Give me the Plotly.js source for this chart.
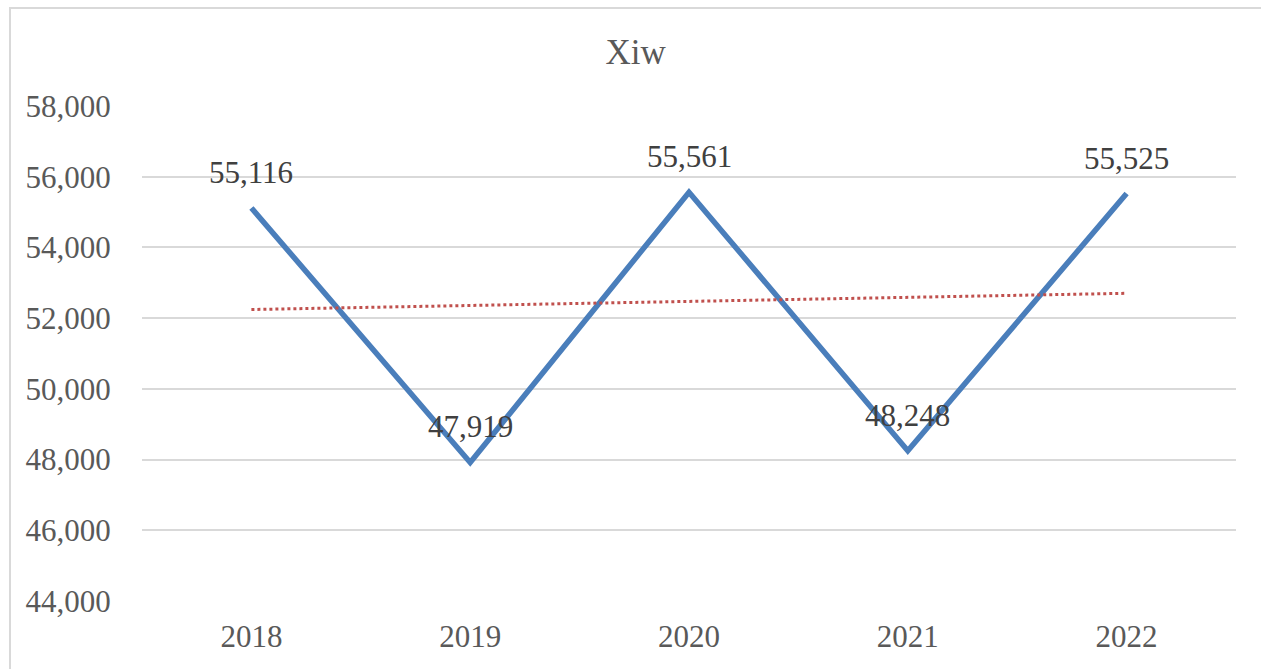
<!DOCTYPE html>
<html>
<head>
<meta charset="utf-8">
<script src="https://cdn.plot.ly/plotly-3.0.1.min.js"></script>
<style>
html,body{margin:0;padding:0;background:#fff;}
#frame{position:absolute;left:9px;top:7px;width:1400px;height:800px;border:2px solid #d9d9d9;box-sizing:border-box;}
#chart{position:absolute;left:0;top:0;width:1261px;height:669px;}
</style>
</head>
<body>
<div id="frame"></div>
<div id="chart"></div>
<script>
const years = ['2018', '2019', '2020', '2021', '2022'];
const values = [55116, 47919, 55561, 48248, 55525];
const labels = ['55,116', '47,919', '55,561', '48,248', '55,525'];
const trendYears = ['2018', '2022'];
const trendValues = [52244, 52703];
const yTicks = [44000, 46000, 48000, 50000, 52000, 54000, 56000, 58000];
const yTickText = ['44,000', '46,000', '48,000', '50,000', '52,000', '54,000', '56,000', '58,000'];

const serif = '"Liberation Serif", "Times New Roman", serif';

const traces = [
  {
    x: years, y: values, type: 'scatter', mode: 'lines',
    line: {color: '#4a7ebb', width: 5.5},
    hoverinfo: 'skip'
  },
  {
    x: trendYears, y: trendValues, type: 'scatter', mode: 'lines',
    line: {color: '#c0504d', width: 3, dash: 'dot'},
    hoverinfo: 'skip'
  }
];

// category axis: annotations use the category's serial index
const annotations = years.map((yr, i) => ({
  x: i, y: values[i], xref: 'x', yref: 'y',
  text: labels[i], showarrow: false,
  xanchor: 'center', yanchor: 'bottom', yshift: 16,
  font: {family: serif, size: 31, color: '#404040'}
}));

const layout = {
  width: 1261, height: 669,
  paper_bgcolor: 'rgba(0,0,0,0)', plot_bgcolor: 'rgba(0,0,0,0)',
  showlegend: false,
  margin: {l: 142, r: 25, t: 106, b: 68},
  title: {text: 'Xiw', font: {family: serif, size: 35, color: '#595959'},
          xref: 'container', x: 0.504, xanchor: 'center',
          yref: 'container', y: 0.922, yanchor: 'middle'},
  annotations: annotations,
  xaxis: {
    type: 'category', range: [-0.5, 4.5],
    showgrid: false, zeroline: false, showline: false,
    ticks: 'outside', ticklen: 8, tickcolor: 'rgba(0,0,0,0)',
    tickfont: {family: serif, size: 31, color: '#595959'}
  },
  yaxis: {
    range: [44000, 58000], tickvals: yTicks, ticktext: yTickText,
    showgrid: true, gridcolor: '#d9d9d9', gridwidth: 2,
    zeroline: false, showline: false,
    ticks: 'outside', ticklen: 24, tickcolor: 'rgba(0,0,0,0)',
    tickfont: {family: serif, size: 31, color: '#595959'}
  }
};

Plotly.newPlot('chart', traces, layout, {staticPlot: true, displayModeBar: false});
</script>
</body>
</html>
